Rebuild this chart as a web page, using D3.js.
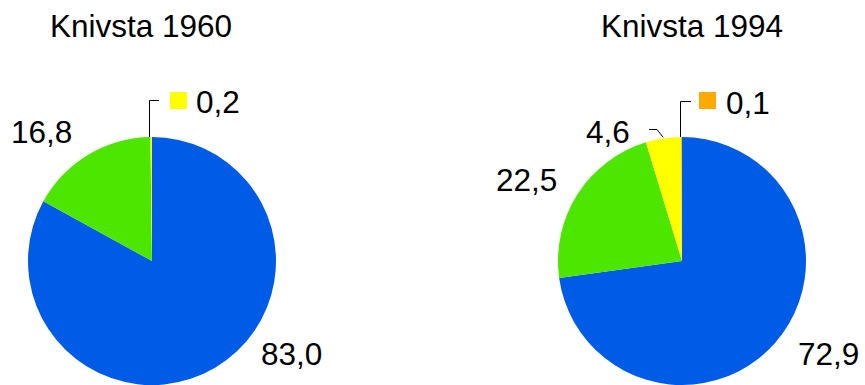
<!DOCTYPE html>
<html>
<head>
<meta charset="utf-8">
<script src="https://cdn.jsdelivr.net/npm/d3@7"></script>
<style>
  html, body { margin: 0; padding: 0; background: #fff; }
  svg { display: block; }
  text { font-family: "Liberation Sans", Arial, sans-serif; fill: #000; }
</style>
</head>
<body>
<svg id="chart" width="865" height="385"></svg>
<script>
// ---- data ----
const titles = ["Knivsta 1960", "Knivsta 1994"];
const categories = ["Blå", "Grön", "Gul", "Orange"];
const colors = ["#005CE6", "#4CE600", "#FFFF00", "#FFAA00"];
const values1960 = [83.0, 16.8, 0.2];
const values1994 = [72.9, 22.5, 4.6, 0.1];
const labels1960 = ["83,0", "16,8", "0,2"];
const labels1994 = ["72,9", "22,5", "4,6", "0,1"];

// ---- layout ----
const W = 865, H = 385;
const R = 124;
const fontSize = 31.5;
const charts = [
  { title: titles[0], values: values1960, labels: labels1960, cx: 152, cy: 261, titleX: 141,
    labelPos: [ {x: 261, y: 365}, {x: 11, y: 143}, null ],
    legendIdx: 2, legend: {lineTop: 100, lineRight: 159, sqX: 170, sqY: 92, textX: 196, textY: 113},
    smallLeader: null },
  { title: titles[1], values: values1994, labels: labels1994, cx: 682, cy: 261, titleX: 692,
    labelPos: [ {x: 798, y: 365}, {x: 496, y: 191}, {x: 586, y: 143}, null ],
    legendIdx: 3, legend: {lineTop: 101, lineRight: 691, sqX: 699, sqY: 92, textX: 726, textY: 114},
    smallLeader: {idx: 2, x0: 649, y0: 129, x1: 657} }
];

const svg = d3.select("#chart");
const color = d3.scaleOrdinal().domain(d3.range(categories.length)).range(colors);
const pie = d3.pie().sort(null).value(d => d);
const arc = d3.arc().innerRadius(0).outerRadius(R);

charts.forEach(c => {
  const g = svg.append("g");
  g.append("text")
    .attr("x", c.titleX).attr("y", 37)
    .attr("text-anchor", "middle")
    .attr("font-size", fontSize)
    .text(c.title);

  const arcs = pie(c.values);
  const pg = g.append("g").attr("transform", `translate(${c.cx},${c.cy})`);
  pg.selectAll("path").data(arcs).join("path")
    .attr("d", arc)
    .attr("fill", (d, i) => color(i));

  // plain labels
  c.labelPos.forEach((p, i) => {
    if (!p) return;
    g.append("text").attr("x", p.x).attr("y", p.y)
      .attr("font-size", fontSize).text(c.labels[i]);
  });

  // small leader for thin slice (4,6)
  if (c.smallLeader) {
    const a = arcs[c.smallLeader.idx];
    const mid = (a.startAngle + a.endAngle) / 2;
    const ex = c.cx + Math.sin(mid) * (R + 1);
    const ey = c.cy - Math.cos(mid) * (R + 1);
    g.append("path")
      .attr("d", `M${c.smallLeader.x0},${c.smallLeader.y0 + 0.5}H${c.smallLeader.x1}L${ex},${ey}`)
      .attr("fill", "none").attr("stroke", "#000").attr("stroke-width", 1);
  }

  // legend-style label for tiny slice
  const li = c.legendIdx;
  const a = arcs[li];
  const lx = Math.round(c.cx + Math.sin(a.startAngle) * R) - 0.5;
  g.append("path")
    .attr("d", `M${lx},${c.cy - R}V${c.legend.lineTop + 0.5}H${c.legend.lineRight}`)
    .attr("fill", "none").attr("stroke", "#000").attr("stroke-width", 1);
  g.append("rect")
    .attr("x", c.legend.sqX).attr("y", c.legend.sqY)
    .attr("width", 17).attr("height", 17)
    .attr("fill", color(li));
  g.append("text").attr("x", c.legend.textX).attr("y", c.legend.textY)
    .attr("font-size", fontSize).text(c.labels[li]);
});
</script>
</body>
</html>
